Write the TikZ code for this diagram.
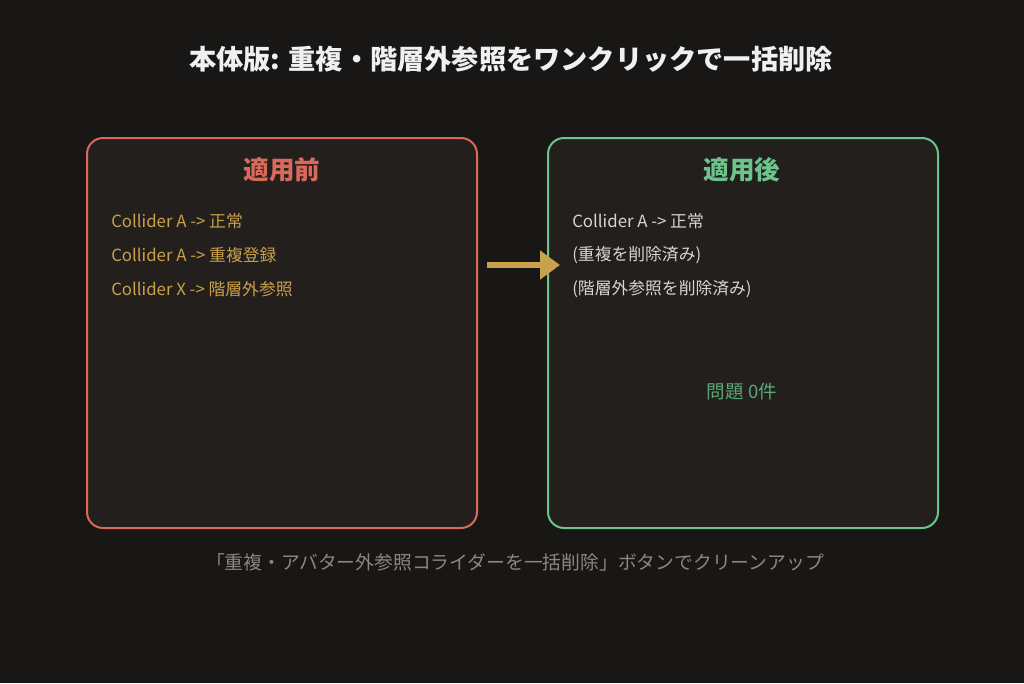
\documentclass[tikz,border=0pt]{standalone}
\usepackage{fontspec}
\setmainfont{Noto Sans CJK JP}
\usetikzlibrary{arrows.meta}
\definecolor{bgcol}{HTML}{181716}
\definecolor{panelcol}{HTML}{231F1D}
\definecolor{beforecol}{HTML}{D9695B}
\definecolor{aftercol}{HTML}{6CC48C}
\definecolor{goldcol}{HTML}{C9A04C}
\definecolor{itemcol}{HTML}{D8D5D0}
\definecolor{footcol}{HTML}{8A8784}
\tikzstyle{panel}=[rounded corners=12pt, line width=1.5pt, fill=panelcol, minimum width=292.5pt, minimum height=292.5pt]
\tikzstyle{heading}=[font=\fontsize{19.2}{22}\selectfont\bfseries]
\tikzstyle{item}=[anchor=west, inner sep=0pt, font=\fontsize{12.6}{14}\selectfont]

\begin{document}
\begin{tikzpicture}[x=0.75pt, y=-0.75pt]
      \fill[bgcol] (0, 0) rectangle (1024, 683);
      \useasboundingbox (0, 0) rectangle (1024, 683);

      \node[text=white!94!black, font=\fontsize{20.4}{23}\selectfont\bfseries] (title) at (511, 59) {本体版: 重複・階層外参照をワンクリックで一括削除};

      \node[panel, draw=beforecol] (before) at (282, 333) {};
      \node[panel, draw=aftercol] (after) at (743, 333) {};

      \node[heading, text=beforecol] (before_head) at (282, 170) {適用前};
      \node[heading, text=aftercol] (after_head) at (742, 170) {適用後};

      % before
      \node[item, text=goldcol] (before_1) at (111, 221) {Collider A -> 正常};
      \node[item, text=goldcol] (before_2) at (111, 255) {Collider A -> 重複登録};
      \node[item, text=goldcol] (before_3) at (111, 289) {Collider X -> 階層外参照};

      % after
      \node[item, text=itemcol] (after_1) at (572, 221) {Collider A -> 正常};
      \node[item, text=itemcol] (after_2) at (572, 255) {(重複を削除済み)};
      \node[item, text=itemcol] (after_3) at (572, 289) {(階層外参照を削除済み)};
      \node[text=aftercol!85!black, font=\fontsize{13.9}{16}\selectfont] (count) at (742, 392) {問題 0件};

      \coordinate (arr_in) at (487, 265);
      \coordinate (arr_out) at (560, 265);
      \draw[goldcol, line width=4.5pt, -{Triangle[length=15pt, width=21pt]}] (arr_in) -- (arr_out);

      \node[text=footcol, font=\fontsize{14.1}{16}\selectfont] (footer) at (515, 562) {「重複・アバター外参照コライダーを一括削除」ボタンでクリーンアップ};
    \end{tikzpicture}
\end{document}
